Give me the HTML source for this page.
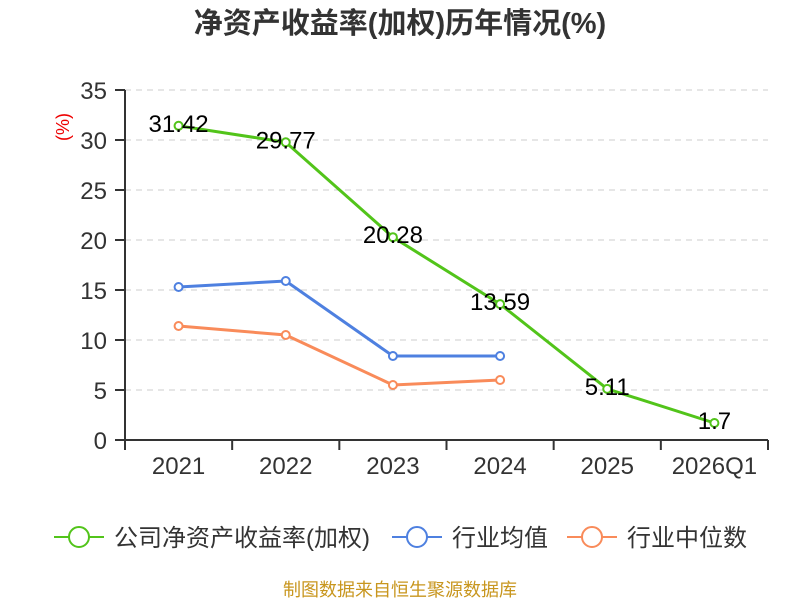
<!DOCTYPE html>
<html><head><meta charset="utf-8"><style>
body{margin:0;background:#fff;font-family:"Liberation Sans","Noto Sans CJK SC",sans-serif}
</style></head><body>
<svg id="c" width="800" height="600" style="font-family:'Liberation Sans','Noto Sans CJK SC',sans-serif">
<text x="400" y="33" text-anchor="middle" font-size="29" font-weight="bold" fill="#333">净资产收益率(加权)历年情况(%)</text>
<text transform="translate(69,127) rotate(-90)" text-anchor="middle" font-size="18" fill="#e00">(%)</text>
<g id="grid"></g><g id="series"></g>
<g>
<g><line x1="54" y1="537" x2="104" y2="537" stroke="#52c41a" stroke-width="2"/><circle cx="79" cy="537" r="10" fill="#fff" stroke="#52c41a" stroke-width="2"/><text x="114" y="546" font-size="24" fill="#333">公司净资产收益率(加权)</text></g>
<g><line x1="392" y1="537" x2="442" y2="537" stroke="#4e80e0" stroke-width="2"/><circle cx="417" cy="537" r="10" fill="#fff" stroke="#4e80e0" stroke-width="2"/><text x="452" y="546" font-size="24" fill="#333">行业均值</text></g>
<g><line x1="567" y1="537" x2="617" y2="537" stroke="#f98b5a" stroke-width="2"/><circle cx="592" cy="537" r="10" fill="#fff" stroke="#f98b5a" stroke-width="2"/><text x="627" y="546" font-size="24" fill="#333">行业中位数</text></g>
</g>
<text x="400" y="596" text-anchor="middle" font-size="18" fill="#c8961e">制图数据来自恒生聚源数据库</text>
</svg>
<script>
const categories=["2021","2022","2023","2024","2025","2026Q1"];
const companyValues=[31.42,29.77,20.28,13.59,5.11,1.7];
const industryAvg=[15.3,15.9,8.4,8.4];
const industryMedian=[11.4,10.5,5.5,6.0];
const yTicks=[0,5,10,15,20,25,30,35];
const NS="http://www.w3.org/2000/svg";
const x0=125,x1=768,yb=440,yt=90,ymax=35;
const bw=(x1-x0)/categories.length;
const X=i=>x0+bw*(i+0.5);
const Y=v=>yb-(v/ymax)*(yb-yt);
function mk(t,a,p){const e=document.createElementNS(NS,t);for(const k in a)e.setAttribute(k,a[k]);p.appendChild(e);return e;}
const g=document.getElementById('grid'),s=document.getElementById('series');
yTicks.forEach(v=>{
 if(v>0){const l=mk('line',{x1:x0,x2:x1,y1:Y(v),y2:Y(v),stroke:'#ccc','stroke-dasharray':'6,5'},g);
 
 }
 mk('line',{x1:115,x2:x0,y1:Y(v),y2:Y(v),stroke:'#333','stroke-width':2},g);
 const t=mk('text',{x:107,y:Y(v)+9,'text-anchor':'end','font-size':24,fill:'#333'},g);t.textContent=v;
 
 
});
mk('line',{x1:x0,x2:x0,y1:yt,y2:yb,stroke:'#333','stroke-width':2},g);
mk('line',{x1:x0,x2:x1,y1:yb,y2:yb,stroke:'#333','stroke-width':2},g);
categories.forEach((c,i)=>{
 mk('line',{x1:x0+bw*i,x2:x0+bw*i,y1:yb,y2:yb+10,stroke:'#333','stroke-width':2},g);
 const t=mk('text',{x:X(i),y:474,'text-anchor':'middle','font-size':24,fill:'#333'},g);t.textContent=c;
 
 
});
mk('line',{x1:x1,x2:x1,y1:yb,y2:yb+10,stroke:'#333','stroke-width':2},g);
function line(vals,color,name,labels){
 const p=mk('polyline',{points:vals.map((v,i)=>X(i)+','+Y(v)).join(' '),fill:'none',stroke:color,'stroke-width':3},s);
 
 
 vals.forEach((v,i)=>{
  const c=mk('circle',{cx:X(i),cy:Y(v),r:4,fill:'#fff',stroke:color,'stroke-width':2},s);
  
  
  if(labels){const t=mk('text',{x:X(i),y:Y(v)+6,'text-anchor':'middle','font-size':24,fill:'#000'},s);t.textContent=v;
  
  }
 });
}
line(industryAvg,'#4e80e0','industry-avg',false);
line(industryMedian,'#f98b5a','industry-median',false);
line(companyValues,'#52c41a','company-roe',true);
</script>
</body></html>
